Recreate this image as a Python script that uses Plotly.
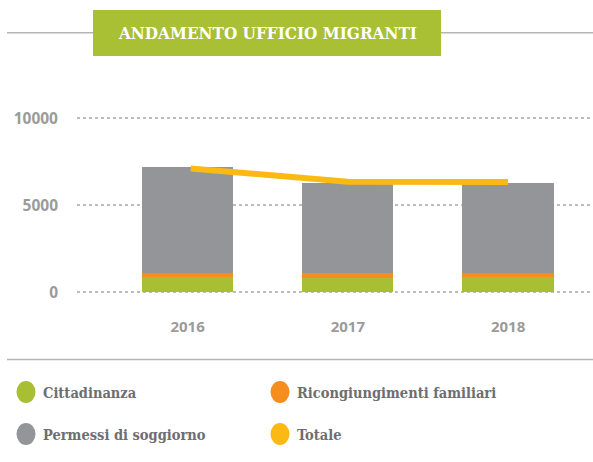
import plotly.graph_objects as go

years = ["2016", "2017", "2018"]
cittadinanza = [860, 845, 860]
ricongiungimenti = [250, 245, 230]
permessi = [6090, 5190, 5170]
totale = [7110, 6350, 6330]

series_names = ["Cittadinanza", "Ricongiungimenti familiari", "Permessi di soggiorno", "Totale"]
colors = ["#A8BE33", "#F68E1F", "#949599", "#FDB913"]
ytick_vals = [0, 5000, 10000]
ytick_text = ["0", "5000", "10000"]

title_text = "ANDAMENTO UFFICIO MIGRANTI"

W, H = 593, 462
ML, MR, MT, MB = 77, 0, 113, 168
fig = go.Figure()

for name, vals, col in [(series_names[0], cittadinanza, colors[0]),
                        (series_names[1], ricongiungimenti, colors[1]),
                        (series_names[2], permessi, colors[2])]:
    fig.add_trace(go.Bar(x=[0, 1, 2], y=vals, name=name, marker=dict(color=col, line=dict(width=0)),
                         width=0.57, showlegend=False))

fig.add_trace(go.Scatter(x=[0.02, 0.9, 1, 2], y=[totale[0], totale[1], totale[1], totale[2]],
                         mode="lines", name=series_names[3],
                         line=dict(color=colors[3], width=6), showlegend=False))

fig.update_layout(
    width=W, height=H,
    barmode="stack",
    bargap=0,
    plot_bgcolor="white", paper_bgcolor="white",
    margin=dict(l=ML, r=MR, t=MT, b=MB, autoexpand=False),
    xaxis=dict(range=[-0.69, 2.53], tickmode="array", tickvals=[0, 1, 2], ticktext=years,
               showgrid=False, zeroline=False, showline=False, automargin=False,
               tickfont=dict(family="Open Sans", size=15, color="#9B9B9B", weight="bold"),
               ticklabelstandoff=22),
    yaxis=dict(range=[-100, 10300], tickmode="array", tickvals=ytick_vals, ticktext=ytick_text,
               showgrid=True, gridcolor="#BDBDBD", griddash="dot", gridwidth=1.5,
               zeroline=False, showline=False, automargin=False,
               tickfont=dict(family="Open Sans", size=15.5, color="#9B9B9B", weight="bold"),
               ticklabelstandoff=18),
)

PW = W - ML - MR
PH = H - MT - MB

def px_x(x):
    return (x - ML) / float(PW)

def px_y(y):
    return (H - MB - y) / float(PH)

shapes = [
    dict(type="line", xref="paper", yref="paper", x0=px_x(7), x1=px_x(93), y0=px_y(32.7), y1=px_y(32.7),
         line=dict(color="#B5B5B5", width=1.5)),
    dict(type="line", xref="paper", yref="paper", x0=px_x(441), x1=px_x(593), y0=px_y(32.7), y1=px_y(32.7),
         line=dict(color="#B5B5B5", width=1.5)),
    dict(type="rect", xref="paper", yref="paper", x0=px_x(93), x1=px_x(441), y0=px_y(10), y1=px_y(56),
         fillcolor="#A9BF34", line=dict(width=0)),
    dict(type="line", xref="paper", yref="paper", x0=px_x(7), x1=px_x(593), y0=px_y(359.5), y1=px_y(359.5),
         line=dict(color="#B5B5B5", width=1.5)),
]
annotations = [dict(xref="paper", yref="paper", x=px_x(267), y=px_y(33), text="<b>" + title_text + "</b>",
                    showarrow=False, xanchor="center", yanchor="middle",
                    font=dict(family="DejaVu Serif Condensed", size=17, color="white"))]

legend_pos = [(26, 392), (280, 392), (26, 434), (280, 434)]
for (cx, cy), i in zip(legend_pos, range(4)):
    shapes.append(dict(type="circle", xref="paper", yref="paper",
                       x0=px_x(cx - 9.5), x1=px_x(cx + 9.5), y0=px_y(cy - 11), y1=px_y(cy + 11),
                       fillcolor=colors[i], line=dict(width=0)))
    annotations.append(dict(xref="paper", yref="paper", x=px_x(cx + 15), y=px_y(cy),
                            text="<b>" + series_names[i] + "</b>", showarrow=False,
                            xanchor="left", yanchor="middle",
                            font=dict(family="DejaVu Serif Condensed", size=14.5, color="#6D6E71")))

fig.update_layout(shapes=shapes, annotations=annotations)
fig.write_html("out.html", config={"displayModeBar": False},
               post_script="document.body.style.margin='0';document.body.style.overflow='hidden';")
